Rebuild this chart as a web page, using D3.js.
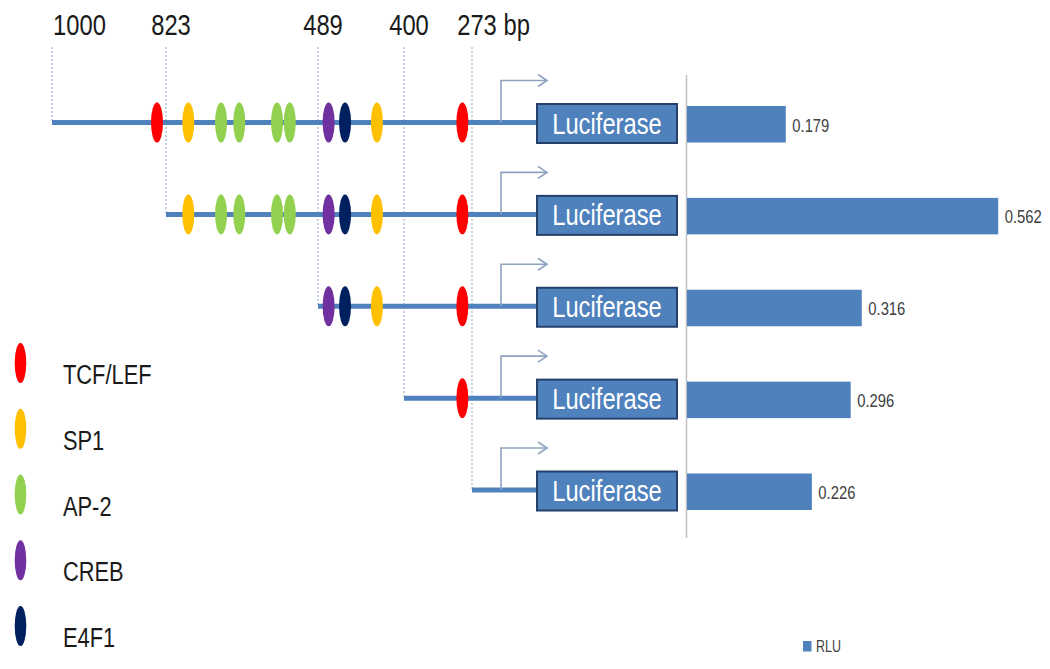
<!DOCTYPE html>
<html>
<head>
<meta charset="utf-8">
<script src="https://cdn.jsdelivr.net/npm/d3@7"></script>
<style>
  html, body { margin: 0; padding: 0; background: #fff; }
  svg { display: block; }
  text { font-family: "Liberation Sans", Arial, sans-serif; }
</style>
</head>
<body>
<svg id="chart" width="1050" height="669"></svg>
<script>
// ---------------- DATA ----------------
const constructStarts = [1000, 823, 489, 400, 273];        // bp, promoter fragment lengths
const constructLabels = ["1000", "823", "489", "400", "273"];
const rluValues = [0.179, 0.562, 0.316, 0.296, 0.226];     // luciferase activity
const siteNames = ["TCF/LEF", "SP1", "AP-2", "CREB", "E4F1"];
const siteColors = ["#FF0000", "#FFC000", "#92D050", "#7030A0", "#002060"];
// binding sites (bp upstream) and their factor
const siteBp   = [837, 774, 702, 662, 579, 551, 478, 461, 428, 291];
const siteType = ["TCF/LEF", "SP1", "AP-2", "AP-2", "AP-2", "AP-2", "CREB", "E4F1", "SP1", "TCF/LEF"];
const reporterLabel = "Luciferase";
const seriesName = "RLU";

// ---------------- LAYOUT ----------------
const svg = d3.select("#chart");

// condensed text helper (no narrow font installed -> horizontal scaling)
function ctext(g, x, y, str, size, anchor, sx, fill) {
  return g.append("text")
    .attr("transform", `translate(${x},${y}) scale(${sx},1)`)
    .attr("text-anchor", anchor).attr("font-size", size).attr("fill", fill).text(str);
}

// schematic (piecewise) bp -> x scale
const xBp = d3.scaleLinear().domain([1000, 823, 489, 400, 273]).range([52, 166, 318, 404, 472]);
const rowY = d3.scalePoint().domain(d3.range(constructStarts.length)).range([122.5, 490]);
const color = d3.scaleOrdinal().domain(siteNames).range(siteColors);
const xVal = d3.scaleLinear().domain([0, 0.6]).range([686.5, 686.5 + 0.6 * 554.7]);

const tssX = 501, boxX0 = 537, boxX1 = 677;
const blue = "#4F81BD";

// dashed guide lines from labels down to each construct's start
const guides = svg.append("g");
constructStarts.forEach((s, i) => {
  guides.append("line")
    .attr("x1", xBp(s)).attr("x2", xBp(s))
    .attr("y1", 47).attr("y2", rowY(i))
    .attr("stroke", "#8FA6C8").attr("stroke-width", 1)
    .attr("stroke-dasharray", "2,2");
});

// top labels
const lab = svg.append("g");
const SX = 0.82;
constructStarts.forEach((s, i) => {
  if (i === 0) {
    ctext(lab, xBp(s) + 1, 35, constructLabels[i], 29, "start", SX, "#1a1a1a");
  } else {
    const t = ctext(lab, xBp(s) + 5, 35, constructLabels[i], 29, "middle", SX, "#1a1a1a");
    if (i === constructStarts.length - 1) {
      const w = t.node().getComputedTextLength() * SX;
      ctext(lab, xBp(s) + 5 + w / 2, 35, "\u00a0bp", 29, "start", SX, "#1a1a1a");
    }
  }
});

// rows
const rows = svg.append("g");
constructStarts.forEach((s, i) => {
  const y = rowY(i);
  const g = rows.append("g");
  // promoter line
  g.append("line").attr("x1", xBp(s)).attr("x2", boxX0).attr("y1", y).attr("y2", y)
    .attr("stroke", blue).attr("stroke-width", 5);
  // transcription start arrow
  g.append("path")
    .attr("d", `M${tssX},${y} V${y - 42} H${tssX + 46}`)
    .attr("fill", "none").attr("stroke", "#8EA3BF").attr("stroke-width", 1.6);
  g.append("path")
    .attr("d", `M${tssX + 37},${y - 48} L${tssX + 46},${y - 42} L${tssX + 37},${y - 36}`)
    .attr("fill", "none").attr("stroke", "#8EA3BF").attr("stroke-width", 1.6);
  // binding sites contained in construct
  siteBp.forEach((b, k) => {
    if (b <= s) {
      g.append("ellipse").attr("cx", xBp(b)).attr("cy", y)
        .attr("rx", 6).attr("ry", 20).attr("fill", color(siteType[k]));
    }
  });
  // luciferase box
  g.append("rect").attr("x", boxX0).attr("y", y - 18.5).attr("width", boxX1 - boxX0).attr("height", 39)
    .attr("fill", blue).attr("stroke", "#24406B").attr("stroke-width", 2);
  ctext(g, (boxX0 + boxX1) / 2, y + 11, reporterLabel, 29, "middle", SX, "#fff");
});

// bar chart
const bars = svg.append("g");
bars.append("line").attr("x1", xVal(0)).attr("x2", xVal(0)).attr("y1", 75).attr("y2", 538)
  .attr("stroke", "#C0C0C0").attr("stroke-width", 1.5);
bars.selectAll("rect.bar").data(rluValues).join("rect").attr("class", "bar")
  .attr("x", xVal(0) + 0.5).attr("y", (d, i) => rowY(i) - 16.5)
  .attr("width", d => xVal(d) - xVal(0) - 0.5).attr("height", 36.5)
  .attr("fill", blue);
rluValues.forEach((d, i) => {
  ctext(bars, xVal(d) + 6.5, rowY(i) + 9, d3.format(".3f")(d), 19, "start", 0.78, "#404040");
});

// RLU legend
svg.append("rect").attr("x", 803).attr("y", 641).attr("width", 8.5).attr("height", 10.5).attr("fill", blue);
ctext(svg, 816, 652, seriesName, 16, "start", 0.78, "#404040");

// factor legend
const legY = d3.scalePoint().domain(siteNames).range([363, 626]);
const leg = svg.append("g");
siteNames.forEach(n => {
  leg.append("ellipse").attr("cx", 20.5).attr("cy", legY(n)).attr("rx", 5.8).attr("ry", 20).attr("fill", color(n));
  ctext(leg, 63, legY(n) + 21, n, 28, "start", 0.78, "#1a1a1a");
});
</script>
</body>
</html>
